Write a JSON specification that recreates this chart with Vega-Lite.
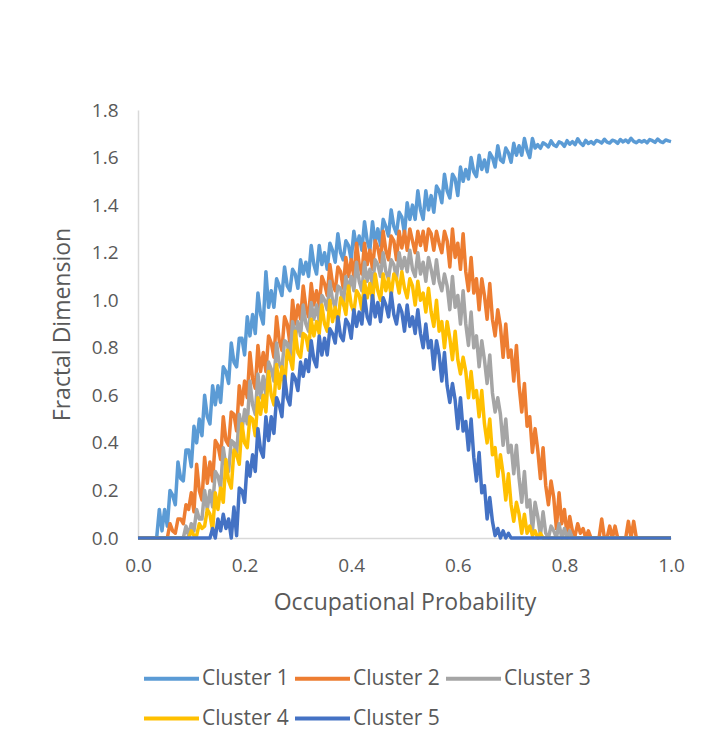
{
  "$schema": "https://vega.github.io/schema/vega-lite/v6.json",
  "autosize": "none",
  "width": 533,
  "height": 428,
  "padding": {"left": 138, "top": 110, "right": 40, "bottom": 213},
  "background": "white",
  "config": {"view": {"stroke": null}, "font": "Open Sans"},
  "data": {"values": [
{"p":0,"C1":0,"C2":0,"C3":0,"C4":0,"C5":0},
{"p":0.005,"C1":0,"C2":0,"C3":0,"C4":0,"C5":0},
{"p":0.01,"C1":0,"C2":0,"C3":0,"C4":0,"C5":0},
{"p":0.015,"C1":0,"C2":0,"C3":0,"C4":0,"C5":0},
{"p":0.02,"C1":0,"C2":0,"C3":0,"C4":0,"C5":0},
{"p":0.025,"C1":0,"C2":0,"C3":0,"C4":0,"C5":0},
{"p":0.03,"C1":0,"C2":0,"C3":0,"C4":0,"C5":0},
{"p":0.035,"C1":0,"C2":0,"C3":0,"C4":0,"C5":0},
{"p":0.04,"C1":0.12,"C2":0,"C3":0,"C4":0,"C5":0},
{"p":0.045,"C1":0.03,"C2":0,"C3":0,"C4":0,"C5":0},
{"p":0.05,"C1":0.12,"C2":0,"C3":0,"C4":0,"C5":0},
{"p":0.055,"C1":0.05,"C2":0,"C3":0,"C4":0,"C5":0},
{"p":0.06,"C1":0.20,"C2":0.06,"C3":0,"C4":0,"C5":0},
{"p":0.065,"C1":0.18,"C2":0.03,"C3":0,"C4":0,"C5":0},
{"p":0.07,"C1":0.14,"C2":0.02,"C3":0,"C4":0,"C5":0},
{"p":0.075,"C1":0.32,"C2":0.08,"C3":0,"C4":0,"C5":0},
{"p":0.08,"C1":0.25,"C2":0.08,"C3":0,"C4":0,"C5":0},
{"p":0.085,"C1":0.24,"C2":0.06,"C3":0,"C4":0,"C5":0},
{"p":0.09,"C1":0.37,"C2":0.14,"C3":0.05,"C4":0,"C5":0},
{"p":0.095,"C1":0.37,"C2":0.12,"C3":0.01,"C4":0,"C5":0},
{"p":0.1,"C1":0.30,"C2":0.19,"C3":0.06,"C4":0.03,"C5":0},
{"p":0.105,"C1":0.47,"C2":0.11,"C3":0.03,"C4":0.01,"C5":0},
{"p":0.11,"C1":0.40,"C2":0.31,"C3":0.12,"C4":0.01,"C5":0},
{"p":0.115,"C1":0.50,"C2":0.20,"C3":0.08,"C4":0.06,"C5":0},
{"p":0.12,"C1":0.43,"C2":0.16,"C3":0.08,"C4":0.04,"C5":0},
{"p":0.125,"C1":0.60,"C2":0.34,"C3":0.20,"C4":0.05,"C5":0},
{"p":0.13,"C1":0.51,"C2":0.23,"C3":0.12,"C4":0.12,"C5":0},
{"p":0.135,"C1":0.48,"C2":0.32,"C3":0.20,"C4":0.10,"C5":0},
{"p":0.14,"C1":0.64,"C2":0.24,"C3":0.13,"C4":0.03,"C5":0.04},
{"p":0.145,"C1":0.56,"C2":0.41,"C3":0.28,"C4":0.19,"C5":0},
{"p":0.15,"C1":0.64,"C2":0.39,"C3":0.26,"C4":0.12,"C5":0.08},
{"p":0.155,"C1":0.57,"C2":0.33,"C3":0.21,"C4":0.21,"C5":0.03},
{"p":0.16,"C1":0.72,"C2":0.51,"C3":0.38,"C4":0.15,"C5":0.10},
{"p":0.165,"C1":0.70,"C2":0.41,"C3":0.30,"C4":0.33,"C5":0.04},
{"p":0.17,"C1":0.65,"C2":0.39,"C3":0.28,"C4":0.24,"C5":0.08},
{"p":0.175,"C1":0.82,"C2":0.53,"C3":0.41,"C4":0.21,"C5":0},
{"p":0.18,"C1":0.74,"C2":0.52,"C3":0.40,"C4":0.37,"C5":0.13},
{"p":0.185,"C1":0.72,"C2":0.45,"C3":0.35,"C4":0.35,"C5":0.01},
{"p":0.19,"C1":0.84,"C2":0.64,"C3":0.52,"C4":0.31,"C5":0.21},
{"p":0.195,"C1":0.84,"C2":0.56,"C3":0.45,"C4":0.48,"C5":0.20},
{"p":0.2,"C1":0.77,"C2":0.66,"C3":0.54,"C4":0.40,"C5":0.15},
{"p":0.205,"C1":0.93,"C2":0.59,"C3":0.48,"C4":0.38,"C5":0.32},
{"p":0.21,"C1":0.85,"C2":0.78,"C3":0.66,"C4":0.51,"C5":0.26},
{"p":0.215,"C1":0.94,"C2":0.67,"C3":0.56,"C4":0.50,"C5":0.35},
{"p":0.22,"C1":0.86,"C2":0.63,"C3":0.52,"C4":0.43,"C5":0.28},
{"p":0.225,"C1":1.03,"C2":0.81,"C3":0.69,"C4":0.59,"C5":0.46},
{"p":0.23,"C1":0.94,"C2":0.70,"C3":0.59,"C4":0.52,"C5":0.37},
{"p":0.235,"C1":0.90,"C2":0.78,"C3":0.68,"C4":0.60,"C5":0.34},
{"p":0.24,"C1":1.12,"C2":0.70,"C3":0.60,"C4":0.53,"C5":0.51},
{"p":0.245,"C1":0.97,"C2":0.85,"C3":0.74,"C4":0.70,"C5":0.41},
{"p":0.25,"C1":1.04,"C2":0.82,"C3":0.71,"C4":0.60,"C5":0.51},
{"p":0.255,"C1":0.97,"C2":0.76,"C3":0.66,"C4":0.56,"C5":0.44},
{"p":0.26,"C1":1.09,"C2":0.93,"C3":0.82,"C4":0.73,"C5":0.59},
{"p":0.265,"C1":1.06,"C2":0.83,"C3":0.73,"C4":0.63,"C5":0.56},
{"p":0.27,"C1":1.02,"C2":0.79,"C3":0.71,"C4":0.72,"C5":0.51},
{"p":0.275,"C1":1.14,"C2":0.93,"C3":0.83,"C4":0.64,"C5":0.68},
{"p":0.28,"C1":1.06,"C2":0.90,"C3":0.82,"C4":0.79,"C5":0.59},
{"p":0.285,"C1":1.04,"C2":0.82,"C3":0.75,"C4":0.76,"C5":0.56},
{"p":0.29,"C1":1.13,"C2":1.00,"C3":0.91,"C4":0.71,"C5":0.69},
{"p":0.295,"C1":1.11,"C2":0.90,"C3":0.84,"C4":0.87,"C5":0.67},
{"p":0.3,"C1":1.05,"C2":0.98,"C3":0.91,"C4":0.78,"C5":0.62},
{"p":0.305,"C1":1.17,"C2":0.92,"C3":0.85,"C4":0.76,"C5":0.74},
{"p":0.31,"C1":1.11,"C2":1.06,"C3":0.98,"C4":0.86,"C5":0.68},
{"p":0.315,"C1":1.16,"C2":0.97,"C3":0.90,"C4":0.85,"C5":0.75},
{"p":0.32,"C1":1.10,"C2":0.93,"C3":0.87,"C4":0.79,"C5":0.70},
{"p":0.325,"C1":1.23,"C2":1.07,"C3":0.99,"C4":0.92,"C5":0.83},
{"p":0.33,"C1":1.15,"C2":0.98,"C3":0.92,"C4":0.85,"C5":0.75},
{"p":0.335,"C1":1.11,"C2":1.04,"C3":0.98,"C4":0.91,"C5":0.72},
{"p":0.34,"C1":1.23,"C2":0.97,"C3":0.91,"C4":0.86,"C5":0.85},
{"p":0.345,"C1":1.15,"C2":1.10,"C3":1.02,"C4":0.98,"C5":0.77},
{"p":0.35,"C1":1.20,"C2":1.07,"C3":1.00,"C4":0.90,"C5":0.84},
{"p":0.355,"C1":1.13,"C2":1.02,"C3":0.96,"C4":0.87,"C5":0.77},
{"p":0.36,"C1":1.24,"C2":1.15,"C3":1.08,"C4":1.00,"C5":0.88},
{"p":0.365,"C1":1.21,"C2":1.07,"C3":1.00,"C4":0.91,"C5":0.86},
{"p":0.37,"C1":1.16,"C2":1.04,"C3":0.97,"C4":0.97,"C5":0.82},
{"p":0.375,"C1":1.28,"C2":1.14,"C3":1.06,"C4":0.90,"C5":0.93},
{"p":0.38,"C1":1.20,"C2":1.12,"C3":1.05,"C4":1.01,"C5":0.85},
{"p":0.385,"C1":1.17,"C2":1.05,"C3":0.98,"C4":0.99,"C5":0.83},
{"p":0.39,"C1":1.25,"C2":1.18,"C3":1.10,"C4":0.94,"C5":0.92},
{"p":0.395,"C1":1.23,"C2":1.10,"C3":1.04,"C4":1.06,"C5":0.90},
{"p":0.4,"C1":1.17,"C2":1.17,"C3":1.10,"C4":0.98,"C5":0.84},
{"p":0.405,"C1":1.29,"C2":1.10,"C3":1.04,"C4":0.95,"C5":0.96},
{"p":0.41,"C1":1.22,"C2":1.24,"C3":1.16,"C4":1.04,"C5":0.89},
{"p":0.415,"C1":1.27,"C2":1.15,"C3":1.08,"C4":1.02,"C5":0.95},
{"p":0.42,"C1":1.21,"C2":1.11,"C3":1.04,"C4":0.96,"C5":0.90},
{"p":0.425,"C1":1.33,"C2":1.24,"C3":1.16,"C4":1.08,"C5":1.02},
{"p":0.43,"C1":1.25,"C2":1.15,"C3":1.08,"C4":1.01,"C5":0.93},
{"p":0.435,"C1":1.21,"C2":1.21,"C3":1.13,"C4":1.07,"C5":0.90},
{"p":0.44,"C1":1.33,"C2":1.13,"C3":1.06,"C4":1.00,"C5":1.02},
{"p":0.445,"C1":1.24,"C2":1.25,"C3":1.17,"C4":1.11,"C5":0.93},
{"p":0.45,"C1":1.30,"C2":1.22,"C3":1.15,"C4":1.04,"C5":0.99},
{"p":0.455,"C1":1.23,"C2":1.16,"C3":1.10,"C4":1.00,"C5":0.91},
{"p":0.46,"C1":1.34,"C2":1.29,"C3":1.20,"C4":1.11,"C5":1.01},
{"p":0.465,"C1":1.31,"C2":1.21,"C3":1.12,"C4":1.04,"C5":0.98},
{"p":0.47,"C1":1.27,"C2":1.17,"C3":1.09,"C4":1.09,"C5":0.93},
{"p":0.475,"C1":1.38,"C2":1.27,"C3":1.17,"C4":1.02,"C5":1.03},
{"p":0.48,"C1":1.31,"C2":1.25,"C3":1.15,"C4":1.11,"C5":0.94},
{"p":0.485,"C1":1.28,"C2":1.17,"C3":1.09,"C4":1.09,"C5":0.90},
{"p":0.49,"C1":1.37,"C2":1.29,"C3":1.20,"C4":1.03,"C5":0.98},
{"p":0.495,"C1":1.35,"C2":1.22,"C3":1.13,"C4":1.12,"C5":0.95},
{"p":0.5,"C1":1.28,"C2":1.29,"C3":1.18,"C4":1.05,"C5":0.87},
{"p":0.505,"C1":1.41,"C2":1.21,"C3":1.12,"C4":1.01,"C5":0.98},
{"p":0.51,"C1":1.34,"C2":1.30,"C3":1.21,"C4":1.09,"C5":0.89},
{"p":0.515,"C1":1.40,"C2":1.25,"C3":1.13,"C4":1.06,"C5":0.93},
{"p":0.52,"C1":1.34,"C2":1.20,"C3":1.10,"C4":0.98,"C5":0.86},
{"p":0.525,"C1":1.46,"C2":1.29,"C3":1.20,"C4":1.08,"C5":0.96},
{"p":0.53,"C1":1.38,"C2":1.23,"C3":1.11,"C4":1.00,"C5":0.86},
{"p":0.535,"C1":1.34,"C2":1.29,"C3":1.16,"C4":1.03,"C5":0.80},
{"p":0.54,"C1":1.46,"C2":1.21,"C3":1.08,"C4":0.95,"C5":0.90},
{"p":0.545,"C1":1.38,"C2":1.30,"C3":1.18,"C4":1.05,"C5":0.80},
{"p":0.55,"C1":1.44,"C2":1.28,"C3":1.13,"C4":0.95,"C5":0.83},
{"p":0.555,"C1":1.37,"C2":1.21,"C3":1.07,"C4":0.89,"C5":0.71},
{"p":0.56,"C1":1.48,"C2":1.29,"C3":1.17,"C4":1.00,"C5":0.83},
{"p":0.565,"C1":1.46,"C2":1.24,"C3":1.08,"C4":0.87,"C5":0.77},
{"p":0.57,"C1":1.41,"C2":1.20,"C3":1.04,"C4":0.91,"C5":0.66},
{"p":0.575,"C1":1.53,"C2":1.29,"C3":1.11,"C4":0.80,"C5":0.78},
{"p":0.58,"C1":1.46,"C2":1.25,"C3":1.06,"C4":0.91,"C5":0.64},
{"p":0.585,"C1":1.43,"C2":1.14,"C3":0.96,"C4":0.84,"C5":0.57},
{"p":0.59,"C1":1.53,"C2":1.30,"C3":1.10,"C4":0.75,"C5":0.65},
{"p":0.595,"C1":1.51,"C2":1.18,"C3":0.97,"C4":0.87,"C5":0.58},
{"p":0.6,"C1":1.44,"C2":1.24,"C3":1.02,"C4":0.75,"C5":0.46},
{"p":0.605,"C1":1.56,"C2":1.13,"C3":0.90,"C4":0.69,"C5":0.59},
{"p":0.61,"C1":1.50,"C2":1.28,"C3":1.04,"C4":0.76,"C5":0.45},
{"p":0.615,"C1":1.55,"C2":1.12,"C3":0.90,"C4":0.70,"C5":0.49},
{"p":0.62,"C1":1.51,"C2":1.04,"C3":0.81,"C4":0.59,"C5":0.37},
{"p":0.625,"C1":1.60,"C2":1.18,"C3":0.95,"C4":0.70,"C5":0.50},
{"p":0.63,"C1":1.54,"C2":1.03,"C3":0.80,"C4":0.59,"C5":0.34},
{"p":0.635,"C1":1.52,"C2":1.09,"C3":0.85,"C4":0.62,"C5":0.24},
{"p":0.64,"C1":1.61,"C2":0.96,"C3":0.72,"C4":0.51,"C5":0.36},
{"p":0.645,"C1":1.55,"C2":1.09,"C3":0.83,"C4":0.62,"C5":0.19},
{"p":0.65,"C1":1.59,"C2":1.02,"C3":0.75,"C4":0.48,"C5":0.22},
{"p":0.655,"C1":1.54,"C2":0.92,"C3":0.65,"C4":0.40,"C5":0.08},
{"p":0.66,"C1":1.62,"C2":1.07,"C3":0.77,"C4":0.50,"C5":0.17},
{"p":0.665,"C1":1.60,"C2":0.92,"C3":0.61,"C4":0.35,"C5":0.07},
{"p":0.67,"C1":1.56,"C2":0.85,"C3":0.53,"C4":0.38,"C5":0.01},
{"p":0.675,"C1":1.65,"C2":0.96,"C3":0.59,"C4":0.26,"C5":0.04},
{"p":0.68,"C1":1.59,"C2":0.89,"C3":0.52,"C4":0.35,"C5":0},
{"p":0.685,"C1":1.58,"C2":0.76,"C3":0.39,"C4":0.27,"C5":0.03},
{"p":0.69,"C1":1.64,"C2":0.90,"C3":0.50,"C4":0.16,"C5":0},
{"p":0.695,"C1":1.62,"C2":0.76,"C3":0.36,"C4":0.27,"C5":0.02},
{"p":0.7,"C1":1.58,"C2":0.79,"C3":0.39,"C4":0.14,"C5":0},
{"p":0.705,"C1":1.66,"C2":0.66,"C3":0.27,"C4":0.07,"C5":0},
{"p":0.71,"C1":1.61,"C2":0.81,"C3":0.39,"C4":0.15,"C5":0},
{"p":0.715,"C1":1.65,"C2":0.64,"C3":0.25,"C4":0.10,"C5":0},
{"p":0.72,"C1":1.61,"C2":0.53,"C3":0.15,"C4":0.02,"C5":0},
{"p":0.725,"C1":1.68,"C2":0.65,"C3":0.28,"C4":0.10,"C5":0},
{"p":0.73,"C1":1.63,"C2":0.47,"C3":0.13,"C4":0.02,"C5":0},
{"p":0.735,"C1":1.60,"C2":0.51,"C3":0.16,"C4":0.05,"C5":0},
{"p":0.74,"C1":1.68,"C2":0.36,"C3":0.03,"C4":0.01,"C5":0},
{"p":0.745,"C1":1.64,"C2":0.46,"C3":0.15,"C4":0.03,"C5":0},
{"p":0.75,"C1":1.654,"C2":0.37,"C3":0.09,"C4":0,"C5":0},
{"p":0.755,"C1":1.639,"C2":0.25,"C3":0.01,"C4":0.02,"C5":0},
{"p":0.76,"C1":1.662,"C2":0.38,"C3":0.11,"C4":0,"C5":0},
{"p":0.765,"C1":1.655,"C2":0.22,"C3":0.02,"C4":0,"C5":0},
{"p":0.77,"C1":1.645,"C2":0.14,"C3":0,"C4":0,"C5":0},
{"p":0.775,"C1":1.67,"C2":0.24,"C3":0.05,"C4":0,"C5":0},
{"p":0.78,"C1":1.653,"C2":0.17,"C3":0.03,"C4":0,"C5":0},
{"p":0.785,"C1":1.647,"C2":0.04,"C3":0,"C4":0,"C5":0},
{"p":0.79,"C1":1.666,"C2":0.19,"C3":0.06,"C4":0,"C5":0},
{"p":0.795,"C1":1.661,"C2":0.06,"C3":0,"C4":0,"C5":0},
{"p":0.8,"C1":1.647,"C2":0.12,"C3":0.04,"C4":0,"C5":0},
{"p":0.805,"C1":1.671,"C2":0.01,"C3":0,"C4":0,"C5":0},
{"p":0.81,"C1":1.656,"C2":0.09,"C3":0.03,"C4":0,"C5":0},
{"p":0.815,"C1":1.667,"C2":0.03,"C3":0,"C4":0,"C5":0},
{"p":0.82,"C1":1.654,"C2":0.01,"C3":0,"C4":0,"C5":0},
{"p":0.825,"C1":1.679,"C2":0.06,"C3":0,"C4":0,"C5":0},
{"p":0.83,"C1":1.661,"C2":0.02,"C3":0,"C4":0,"C5":0},
{"p":0.835,"C1":1.651,"C2":0.04,"C3":0,"C4":0,"C5":0},
{"p":0.84,"C1":1.672,"C2":0,"C3":0,"C4":0,"C5":0},
{"p":0.845,"C1":1.659,"C2":0.03,"C3":0,"C4":0,"C5":0},
{"p":0.85,"C1":1.667,"C2":0,"C3":0,"C4":0,"C5":0},
{"p":0.855,"C1":1.657,"C2":0,"C3":0,"C4":0,"C5":0},
{"p":0.86,"C1":1.672,"C2":0,"C3":0,"C4":0,"C5":0},
{"p":0.865,"C1":1.668,"C2":0,"C3":0,"C4":0,"C5":0},
{"p":0.87,"C1":1.661,"C2":0.08,"C3":0,"C4":0,"C5":0},
{"p":0.875,"C1":1.677,"C2":0,"C3":0,"C4":0,"C5":0},
{"p":0.88,"C1":1.665,"C2":0,"C3":0,"C4":0,"C5":0},
{"p":0.885,"C1":1.661,"C2":0.05,"C3":0,"C4":0,"C5":0},
{"p":0.89,"C1":1.673,"C2":0,"C3":0,"C4":0,"C5":0},
{"p":0.895,"C1":1.669,"C2":0.05,"C3":0,"C4":0,"C5":0},
{"p":0.9,"C1":1.66,"C2":0,"C3":0,"C4":0,"C5":0},
{"p":0.905,"C1":1.676,"C2":0,"C3":0,"C4":0,"C5":0},
{"p":0.91,"C1":1.666,"C2":0,"C3":0,"C4":0,"C5":0},
{"p":0.915,"C1":1.674,"C2":0,"C3":0,"C4":0,"C5":0},
{"p":0.92,"C1":1.664,"C2":0.07,"C3":0,"C4":0,"C5":0},
{"p":0.925,"C1":1.681,"C2":0,"C3":0,"C4":0,"C5":0},
{"p":0.93,"C1":1.668,"C2":0.07,"C3":0,"C4":0,"C5":0},
{"p":0.935,"C1":1.662,"C2":0,"C3":0,"C4":0,"C5":0},
{"p":0.94,"C1":1.672,"C2":0,"C3":0,"C4":0,"C5":0},
{"p":0.945,"C1":1.665,"C2":0,"C3":0,"C4":0,"C5":0},
{"p":0.95,"C1":1.672,"C2":0,"C3":0,"C4":0,"C5":0},
{"p":0.955,"C1":1.662,"C2":0,"C3":0,"C4":0,"C5":0},
{"p":0.96,"C1":1.676,"C2":0,"C3":0,"C4":0,"C5":0},
{"p":0.965,"C1":1.671,"C2":0,"C3":0,"C4":0,"C5":0},
{"p":0.97,"C1":1.664,"C2":0,"C3":0,"C4":0,"C5":0},
{"p":0.975,"C1":1.678,"C2":0,"C3":0,"C4":0,"C5":0},
{"p":0.98,"C1":1.667,"C2":0,"C3":0,"C4":0,"C5":0},
{"p":0.985,"C1":1.663,"C2":0,"C3":0,"C4":0,"C5":0},
{"p":0.99,"C1":1.674,"C2":0,"C3":0,"C4":0,"C5":0},
{"p":0.995,"C1":1.670,"C2":0,"C3":0,"C4":0,"C5":0},
{"p":1.0,"C1":1.667,"C2":0,"C3":0,"C4":0,"C5":0}
  ]},
  "transform": [{"fold": ["C1", "C2", "C3", "C4", "C5"], "as": ["cluster", "fd"]}],
  "mark": {"type": "line", "strokeWidth": 3.5, "strokeJoin": "round", "clip": false},
  "encoding": {
    "x": {
      "field": "p", "type": "quantitative",
      "scale": {"domain": [0, 1], "nice": false, "zero": true},
      "axis": {
        "title": "Occupational Probability",
        "values": [0, 0.2, 0.4, 0.6, 0.8, 1.0],
        "format": ".1f", "labelFlush": false,
        "grid": false, "ticks": false,
        "domain": true, "domainColor": "#D9D9D9", "domainWidth": 1.5,
        "labelFontSize": 19, "labelColor": "#595959", "labelPadding": 18,
        "titleFontSize": 23, "titleFontWeight": "normal", "titleColor": "#595959", "titlePadding": 16
      }
    },
    "y": {
      "field": "fd", "type": "quantitative",
      "scale": {"domain": [0, 1.8], "nice": false},
      "axis": {
        "title": "Fractal Dimension",
        "values": [0, 0.2, 0.4, 0.6, 0.8, 1.0, 1.2, 1.4, 1.6, 1.8],
        "format": ".1f", "labelFlush": false,
        "grid": false, "ticks": false,
        "domain": true, "domainColor": "#D9D9D9", "domainWidth": 1.5,
        "labelFontSize": 19, "labelColor": "#595959", "labelPadding": 20,
        "titleFontSize": 23, "titleFontWeight": "normal", "titleColor": "#595959", "titlePadding": 17
      }
    },
    "color": {
      "field": "cluster", "type": "nominal",
      "scale": {"domain": ["C1", "C2", "C3", "C4", "C5"], "range": ["#5B9BD5", "#ED7D31", "#A5A5A5", "#FFC000", "#4472C4"]},
      "legend": {
        "title": null,
        "orient": "none", "legendX": 4, "legendY": 539,
        "direction": "horizontal", "columns": 3,
        "symbolType": "stroke", "symbolSize": 3025, "symbolStrokeWidth": 4,
        "labelExpr": "'Cluster ' + slice(datum.label, 1)",
        "labelFontSize": 21, "labelColor": "#595959", "labelOffset": 1,
        "columnPadding": -2, "rowPadding": 0
      }
    }
  }
}
